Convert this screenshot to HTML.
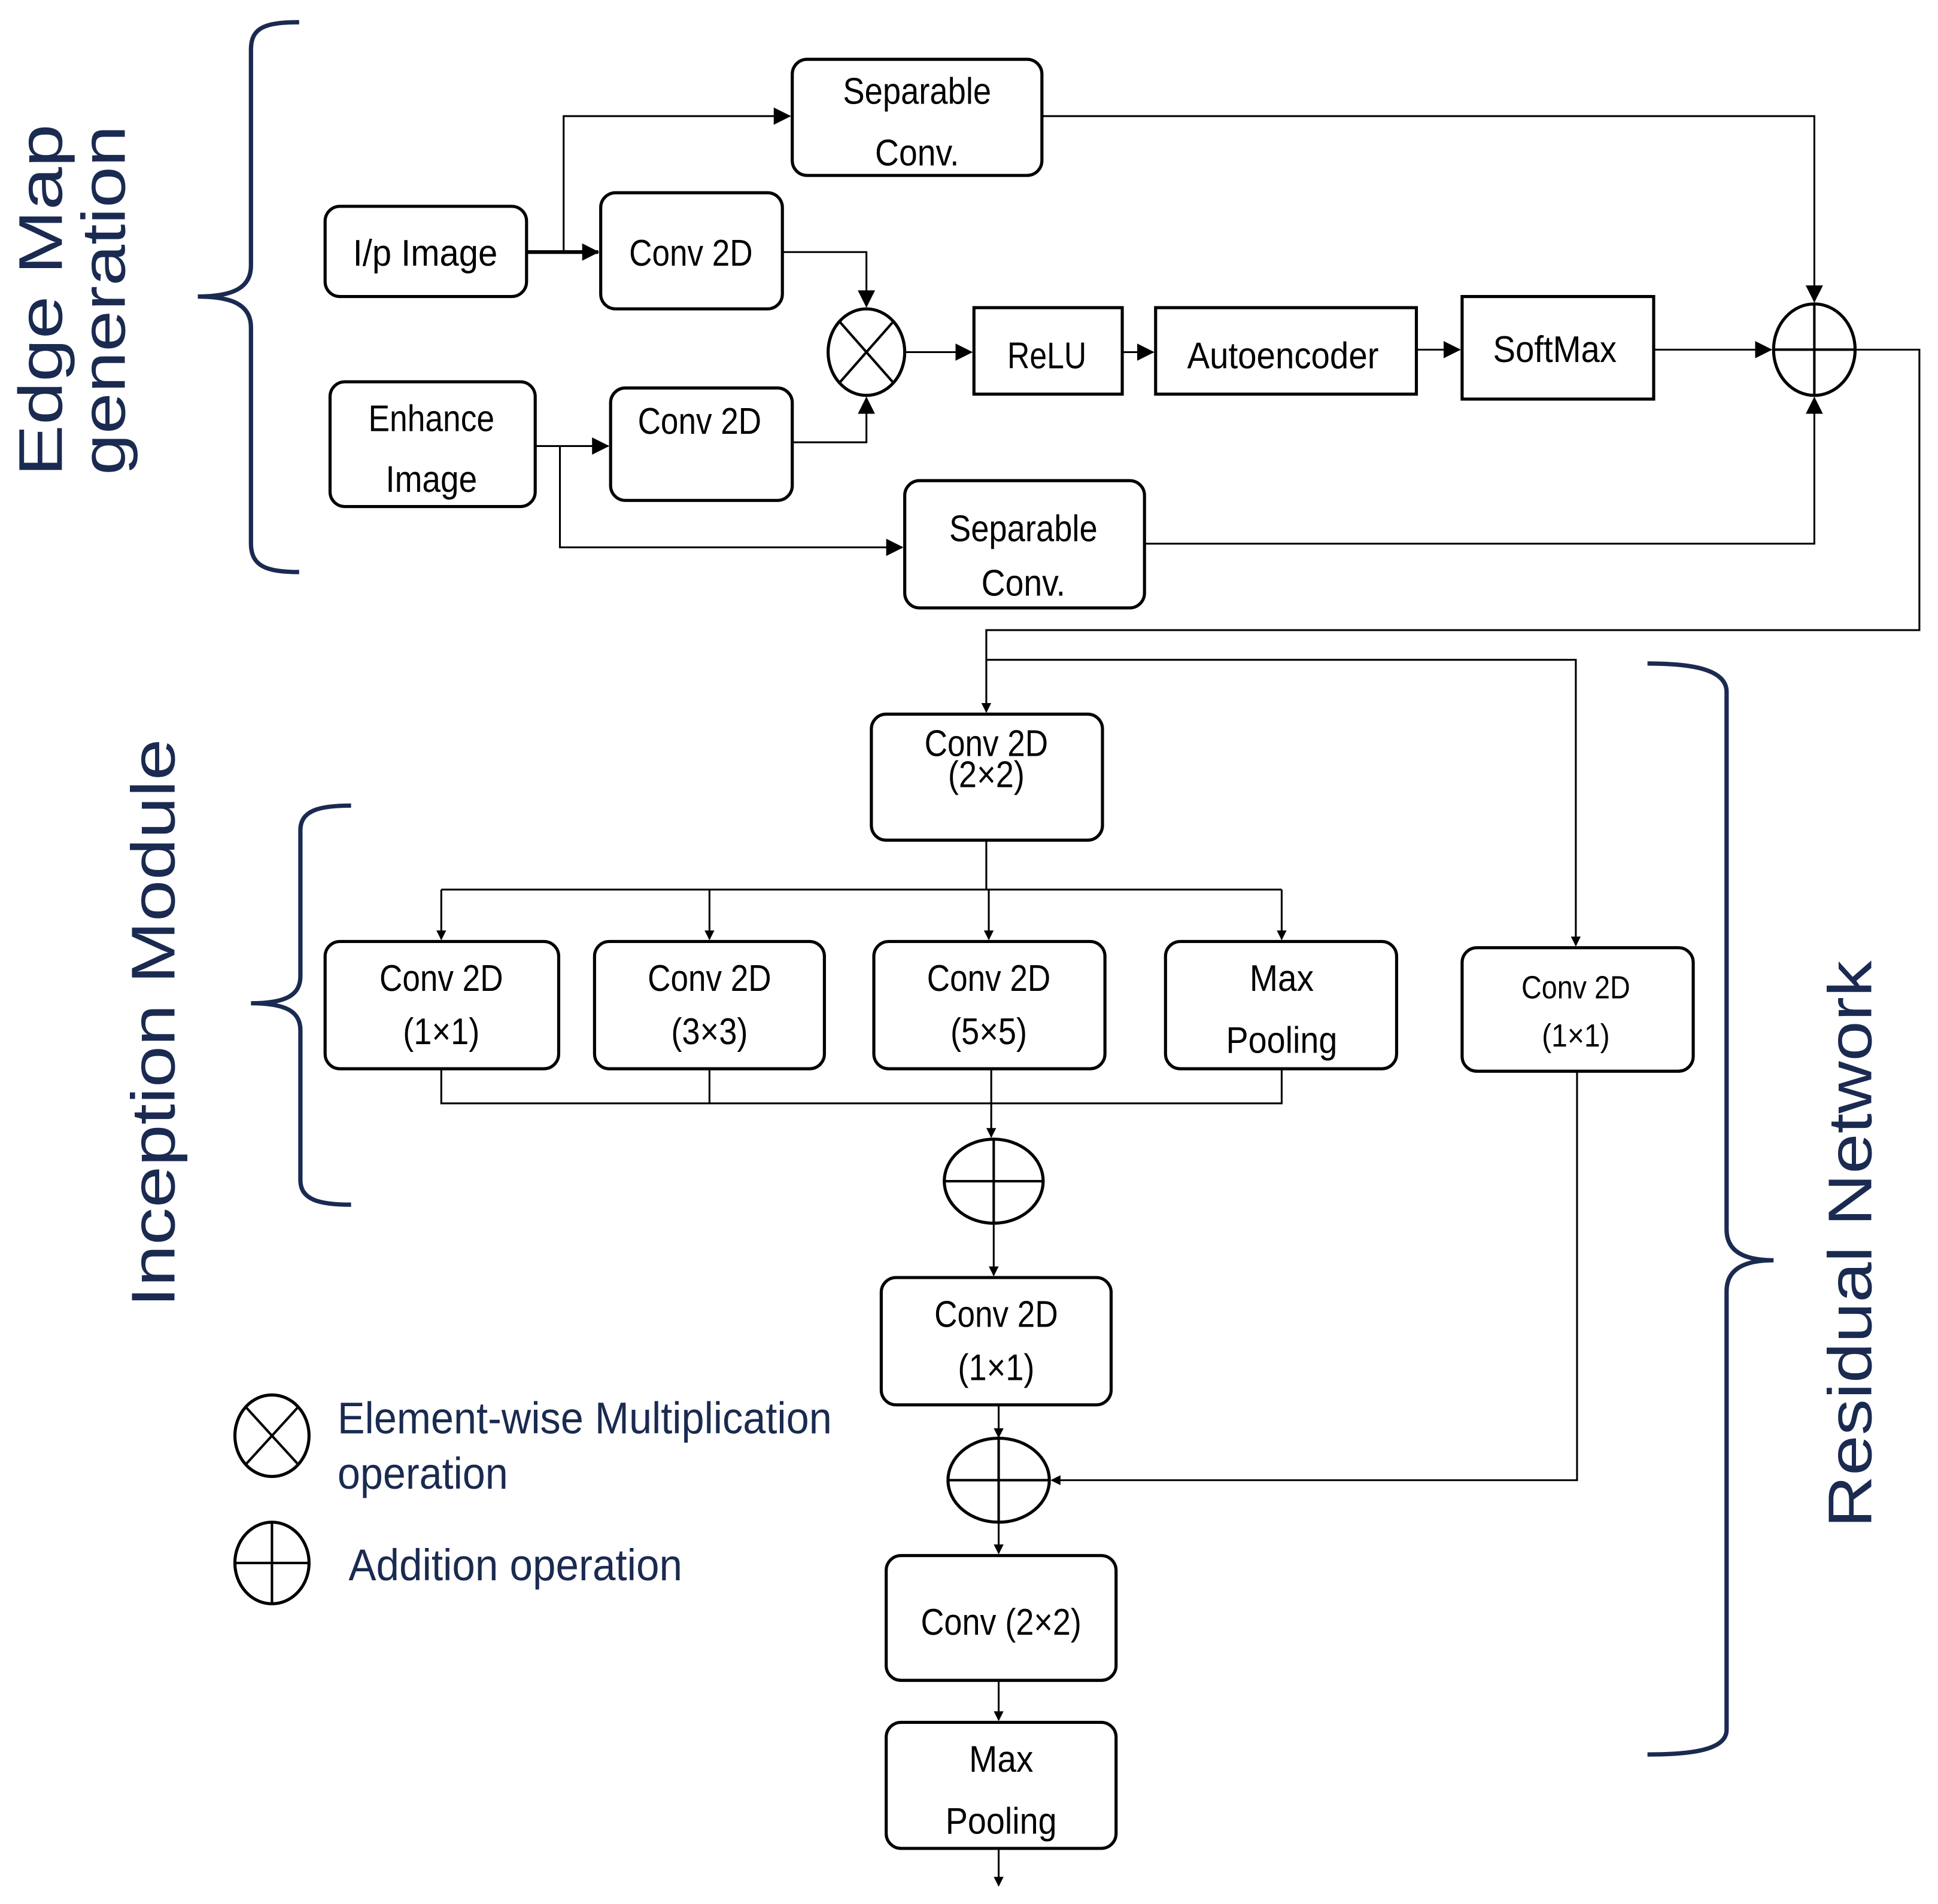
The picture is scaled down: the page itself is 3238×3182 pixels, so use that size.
<!DOCTYPE html>
<html><head><meta charset="utf-8"><style>html,body{margin:0;padding:0;background:#fff}svg{display:block}</style></head>
<body>
<svg xmlns="http://www.w3.org/2000/svg" width="3238" height="3182" viewBox="0 0 1568 1541">
<defs><marker id="a" markerWidth="8" markerHeight="8" refX="7" refY="4" orient="auto" markerUnits="userSpaceOnUse" viewBox="0 0 8 8"><path d="M0,0 L8,4 L0,8 z" fill="#000"/></marker>
<marker id="b" markerWidth="14" markerHeight="14" refX="13" refY="7" orient="auto" markerUnits="userSpaceOnUse" viewBox="0 0 14 14"><path d="M0,0 L14,7 L0,14 z" fill="#000"/></marker></defs>
<rect width="1568" height="1541" fill="#fff"/>
<g fill="none" stroke="#000" stroke-width="2.5">
<rect x="641" y="48" width="202" height="94" rx="12"/>
<rect x="263" y="167" width="163" height="73" rx="12"/>
<rect x="486" y="156" width="147" height="94" rx="12"/>
<rect x="267" y="309" width="166" height="101" rx="12"/>
<rect x="494" y="314" width="147" height="91" rx="12"/>
<rect x="732" y="389" width="194" height="103" rx="12"/>
<rect x="788" y="249" width="120" height="70"/>
<rect x="935" y="249" width="211" height="70"/>
<rect x="1183" y="240" width="155" height="83"/>
<ellipse cx="701" cy="285" rx="31" ry="35"/>
<ellipse cx="1468" cy="283" rx="33" ry="37"/>
<rect x="705" y="578" width="187" height="102" rx="12"/>
<rect x="263" y="762" width="189" height="103" rx="12"/>
<rect x="481" y="762" width="186" height="103" rx="12"/>
<rect x="707" y="762" width="187" height="103" rx="12"/>
<rect x="943" y="762" width="187" height="103" rx="12"/>
<rect x="1183" y="767" width="187" height="100" rx="12"/>
<ellipse cx="804" cy="956" rx="40" ry="34"/>
<rect x="713" y="1034" width="186" height="103" rx="12"/>
<ellipse cx="808" cy="1198" rx="41" ry="34"/>
<rect x="717" y="1259" width="186" height="101" rx="12"/>
<rect x="717" y="1394" width="186" height="102" rx="12"/>
<ellipse cx="220" cy="1162" rx="30" ry="33"/>
<ellipse cx="220" cy="1265" rx="30" ry="33"/>
</g>
<g stroke="#000" stroke-width="2">
<line x1="679" y1="260" x2="723" y2="310"/><line x1="723" y1="260" x2="679" y2="310"/>
<line x1="1468" y1="246" x2="1468" y2="320"/><line x1="1435" y1="283" x2="1501" y2="283"/>
<line x1="804" y1="922" x2="804" y2="990"/><line x1="764" y1="956" x2="844" y2="956"/>
<line x1="808" y1="1164" x2="808" y2="1232"/><line x1="767" y1="1198" x2="849" y2="1198"/>
<line x1="199" y1="1139" x2="241" y2="1185"/><line x1="241" y1="1139" x2="199" y2="1185"/>
<line x1="220" y1="1232" x2="220" y2="1298"/><line x1="190" y1="1265" x2="250" y2="1265"/>
</g>
<g fill="none" stroke="#000" stroke-width="1.5">
<path d="M426,204 H484" stroke-width="3" marker-end="url(#b)"/>
<path d="M456,204 V94 H639" marker-end="url(#b)"/>
<path d="M633,204 H701 V248" marker-end="url(#b)"/>
<path d="M641,358 H701 V322" marker-end="url(#b)"/>
<path d="M433,361 H492" marker-end="url(#b)"/>
<path d="M453,361 V443 H730" marker-end="url(#b)"/>
<path d="M732,285 H786" marker-end="url(#b)"/>
<path d="M908,285 H933" marker-end="url(#b)"/>
<path d="M1146,283 H1181" marker-end="url(#b)"/>
<path d="M1338,283 H1433" marker-end="url(#b)"/>
<path d="M843,94 H1468 V244" marker-end="url(#b)"/>
<path d="M926,440 H1468 V322" marker-end="url(#b)"/>
<path d="M1501,283 H1553 V510 H798 V576" marker-end="url(#a)"/>
<path d="M798,534 H1275 V765" marker-end="url(#a)"/>
<path d="M798,680 V720"/>
<path d="M357,720 H1037"/>
<path d="M357,720 V760" marker-end="url(#a)"/>
<path d="M574,720 V760" marker-end="url(#a)"/>
<path d="M800,720 V760" marker-end="url(#a)"/>
<path d="M1037,720 V760" marker-end="url(#a)"/>
<path d="M357,865 V893 H1037 V865"/>
<path d="M574,865 V893"/>
<path d="M802,865 V893 V920" marker-end="url(#a)"/>
<path d="M804,990 V1032" marker-end="url(#a)"/>
<path d="M808,1137 V1163" marker-end="url(#a)"/>
<path d="M1276,867 V1198 H851" marker-end="url(#a)"/>
<path d="M808,1232 V1257" marker-end="url(#a)"/>
<path d="M808,1360 V1392" marker-end="url(#a)"/>
<path d="M808,1496 V1526" marker-end="url(#a)"/>
</g>
<g fill="none" stroke="#1a2a50" stroke-width="3.5">
<path d="M242,18 C215,18 203,22 203,40 V215 C203,232 190,240 160,240 C190,240 203,248 203,265 V440 C203,458 215,463 242,463"/>
<path d="M284,652 C258,652 243,656 243,672 V790 C243,805 232,812 203,812 C232,812 243,819 243,834 V955 C243,971 258,975 284,975"/>
<path d="M1333,537 C1370,537 1397,542 1397,560 V995 C1397,1012 1410,1020 1435,1020 C1410,1020 1397,1028 1397,1045 V1400 C1397,1416 1370,1420 1333,1420"/>
</g>
<g font-family="Liberation Sans, sans-serif" fill="#1a2a50" font-size="50">
<text transform="translate(50,243) rotate(-90)" text-anchor="middle" textLength="285" lengthAdjust="spacingAndGlyphs">Edge Map</text>
<text transform="translate(101,243) rotate(-90)" text-anchor="middle" textLength="283" lengthAdjust="spacingAndGlyphs">generation</text>
<text transform="translate(141,828) rotate(-90)" text-anchor="middle" textLength="460" lengthAdjust="spacingAndGlyphs">Inception Module</text>
<text transform="translate(1514,1007) rotate(-90)" text-anchor="middle" textLength="459" lengthAdjust="spacingAndGlyphs">Residual Network</text>
<g font-size="36">
<text x="273" y="1160" textLength="400" lengthAdjust="spacingAndGlyphs">Element-wise Multiplication</text>
<text x="273" y="1205" textLength="138" lengthAdjust="spacingAndGlyphs">operation</text>
<text x="282" y="1279" textLength="270" lengthAdjust="spacingAndGlyphs">Addition operation</text>
</g>
</g>
<g font-family="Liberation Sans, sans-serif" fill="#000" font-size="30" text-anchor="middle" lengthAdjust="spacingAndGlyphs">
<text x="742" y="84" textLength="120" lengthAdjust="spacingAndGlyphs">Separable</text>
<text x="742" y="134" textLength="68" lengthAdjust="spacingAndGlyphs">Conv.</text>
<text x="344" y="215" textLength="117" lengthAdjust="spacingAndGlyphs">I/p Image</text>
<text x="559" y="215" textLength="100" lengthAdjust="spacingAndGlyphs">Conv 2D</text>
<text x="349" y="349" textLength="102" lengthAdjust="spacingAndGlyphs">Enhance</text>
<text x="349" y="398" textLength="74" lengthAdjust="spacingAndGlyphs">Image</text>
<text x="566" y="351" textLength="100" lengthAdjust="spacingAndGlyphs">Conv 2D</text>
<text x="828" y="438" textLength="120" lengthAdjust="spacingAndGlyphs">Separable</text>
<text x="828" y="482" textLength="68" lengthAdjust="spacingAndGlyphs">Conv.</text>
<text x="847" y="298" textLength="64" lengthAdjust="spacingAndGlyphs">ReLU</text>
<text x="1038" y="298" textLength="155" lengthAdjust="spacingAndGlyphs">Autoencoder</text>
<text x="1258" y="293" textLength="100" lengthAdjust="spacingAndGlyphs">SoftMax</text>
<text x="798" y="612" textLength="100" lengthAdjust="spacingAndGlyphs">Conv 2D</text>
<text x="798" y="637" textLength="62" lengthAdjust="spacingAndGlyphs">(2×2)</text>
<text x="357" y="802" textLength="100" lengthAdjust="spacingAndGlyphs">Conv 2D</text>
<text x="357" y="845" textLength="62" lengthAdjust="spacingAndGlyphs">(1×1)</text>
<text x="574" y="802" textLength="100" lengthAdjust="spacingAndGlyphs">Conv 2D</text>
<text x="574" y="845" textLength="62" lengthAdjust="spacingAndGlyphs">(3×3)</text>
<text x="800" y="802" textLength="100" lengthAdjust="spacingAndGlyphs">Conv 2D</text>
<text x="800" y="845" textLength="62" lengthAdjust="spacingAndGlyphs">(5×5)</text>
<text x="1037" y="802" textLength="52" lengthAdjust="spacingAndGlyphs">Max</text>
<text x="1037" y="852" textLength="90" lengthAdjust="spacingAndGlyphs">Pooling</text>
<text x="1275" y="808" font-size="26" textLength="88" lengthAdjust="spacingAndGlyphs">Conv 2D</text>
<text x="1275" y="847" font-size="26" textLength="55" lengthAdjust="spacingAndGlyphs">(1×1)</text>
<text x="806" y="1074" textLength="100" lengthAdjust="spacingAndGlyphs">Conv 2D</text>
<text x="806" y="1117" textLength="62" lengthAdjust="spacingAndGlyphs">(1×1)</text>
<text x="810" y="1323" textLength="130" lengthAdjust="spacingAndGlyphs">Conv (2×2)</text>
<text x="810" y="1434" textLength="52" lengthAdjust="spacingAndGlyphs">Max</text>
<text x="810" y="1484" textLength="90" lengthAdjust="spacingAndGlyphs">Pooling</text>
</g>
</svg>
</body></html>
